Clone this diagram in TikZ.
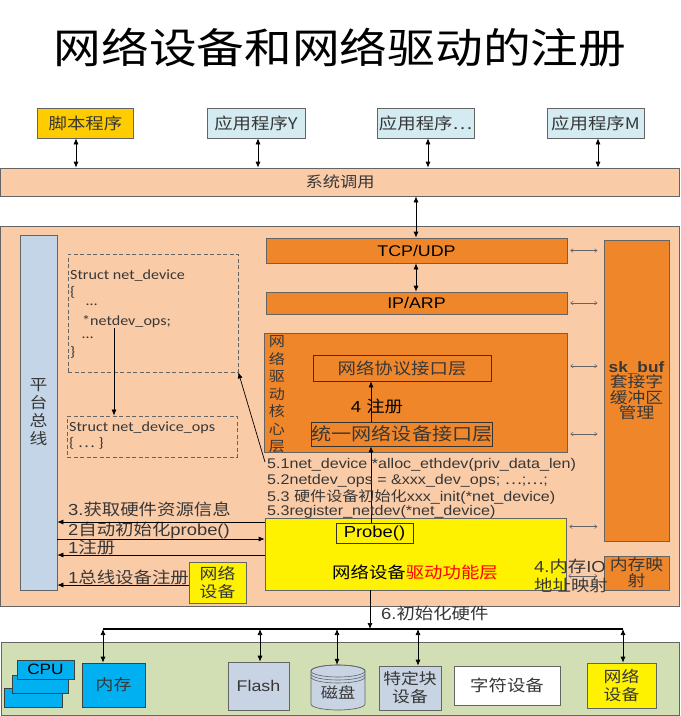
\documentclass[tikz,border=0pt]{standalone}
\usepackage{fontspec}
\setmainfont[FakeStretch=1.15]{Liberation Sans}
\newfontfamily\cjk[FakeStretch=1.15]{Noto Sans CJK SC}
\newfontfamily\carl[FakeStretch=1.15]{Carlito}
\usetikzlibrary{arrows.meta,calc}
\definecolor{peach}{RGB}{250,203,167}
\definecolor{orng}{RGB}{240,134,42}
\definecolor{busblue}{RGB}{197,213,232}
\definecolor{appcyan}{RGB}{211,235,241}
\definecolor{gold}{RGB}{255,204,0}
\definecolor{grn}{RGB}{210,222,180}
\definecolor{cpublue}{RGB}{0,176,240}
\definecolor{flashgray}{RGB}{200,212,228}
\definecolor{txt}{RGB}{55,55,55}
\definecolor{edge}{RGB}{100,100,100}
\newcommand\fsz[2]{\fontsize{#1}{#2}\selectfont}
\begin{document}
\begin{tikzpicture}[x=1pt,y=-1pt,
 box/.style={draw=edge,line width=0.7pt,inner sep=0pt,align=center,text=txt},
 arr/.style={-{Latex[length=6pt,width=5pt]},line width=0.7pt},
 darr/.style={{Latex[length=6pt,width=5pt]}-{Latex[length=6pt,width=5pt]},line width=0.7pt},
 sarr/.style={{To[length=3pt,width=4pt]}-{To[length=3pt,width=4pt]},draw=edge,line width=0.5pt},
 dbox/.style={draw=edge,line width=0.8pt,dash pattern=on 4pt off 2.5pt,inner sep=0pt},
 lbl/.style={anchor=west,inner sep=0pt,text=txt},
]
\useasboundingbox (0,0) rectangle (681,716);
\fill[white] (0,0) rectangle (681,716);

% title
\node (title) at (340,48) {\cjk\fsz{41.5}{46}网络设备和网络驱动的注册};

% application boxes
\node[box,fill=gold,minimum width=96pt,minimum height=30pt] (app1) at (85.5,123) {\cjk\fsz{16}{18}脚本程序};
\node[box,fill=appcyan,minimum width=98pt,minimum height=30pt] (app2) at (256,123) {\cjk\fsz{16}{18}应用程序Y};
\node[box,fill=appcyan,minimum width=97pt,minimum height=30pt] (app3) at (425.5,123) {\cjk\fsz{16}{18}应用程序…};
\node[box,fill=appcyan,minimum width=97pt,minimum height=30pt] (app4) at (595.5,123) {\cjk\fsz{16}{18}应用程序M};

% system call bar
\node[box,fill=peach,minimum width=679pt,minimum height=28pt] (sys) at (340,182) {\cjk\fsz{15}{17}系统调用};
\draw[darr] (app1.south -| 76,0) -- (sys.north -| 76,0);
\draw[darr] (app2.south -| 258,0) -- (sys.north -| 258,0);
\draw[darr] (app3.south -| 428,0) -- (sys.north -| 428,0);
\draw[darr] (app4.south -| 598,0) -- (sys.north -| 598,0);

% main kernel area
\node[box,fill=peach,minimum width=679pt,minimum height=380pt] (main) at (340,416) {};

% platform bus
\node[box,fill=busblue,minimum width=37pt,minimum height=355pt,font=\cjk\fsz{15.5}{18}] (bus) at (38.5,412.5) {平\\台\\总\\线};

% dashed struct boxes
\node[dbox,minimum width=170pt,minimum height=118pt] (nd) at (153,313) {};
\node[lbl] (s1) at (70,276) {\carl\fsz{14}{15}Struct net\_device};
\node[lbl] (s2) at (70,292) {\carl\fsz{14}{15}\{};
\node[lbl] (s3) at (86,305) {\carl\fsz{14}{15}…};
\node[lbl] (s4) at (82,322) {\carl\fsz{14}{15}*netdev\_ops;};
\node[lbl] (s5) at (82,338) {\carl\fsz{14}{15}…};
\node[lbl] (s6) at (70,352) {\carl\fsz{14}{15}\}};
\node[dbox,minimum width=170pt,minimum height=41pt] (nops) at (152,436.5) {};
\node[lbl] (o1) at (69,428) {\carl\fsz{14}{15}Struct net\_device\_ops};
\node[lbl] (o2) at (69,443) {\carl\fsz{14}{15}\{ {\cjk ⋯} \}};
\draw[arr] (s4.south -| 114,0) -- (nops.north -| 114,0);

% protocol stack
\node[box,fill=orng,minimum width=301pt,minimum height=25pt,text=black] (tcp) at (416.5,250.5) {\fsz{15.5}{17}TCP/UDP};
\node[box,fill=orng,minimum width=301pt,minimum height=22pt,text=black] (ip) at (416.5,303) {\fsz{15.5}{17}IP/ARP};
\draw[darr] (sys.south -| 416,0) -- (tcp.north -| 416,0);
\draw[darr] (tcp.south -| 416,0) -- (ip.north -| 416,0);

% driver core layer
\node[box,fill=orng,minimum width=303pt,minimum height=119pt] (core) at (415.5,392.5) {};
\node[text=txt,inner sep=0pt,align=center,font=\cjk\fsz{14}{17.5}] (corelbl) at (277,394.5) {网\\络\\驱\\动\\核\\心\\层};
\node[box,draw=black!80,minimum width=178pt,minimum height=26pt] (proto) at (402,368) {\cjk\fsz{16}{18}网络协议接口层};
\node[box,draw=black!80,minimum width=178pt,minimum height=24pt] (unify) at (402,434) {\cjk\fsz{17.5}{19}统一网络设备接口层};
\node[inner sep=0pt] (reg4) at (377,406) {\fsz{16}{18}4 {\cjk 注册}};
\draw[arr] (unify.north -| 371,0) -- (proto.south -| 371,0);

% driver function layer
\node[box,fill=yellow,minimum width=301pt,minimum height=72pt] (yel) at (415.5,554) {};
\node[inner sep=0pt] (yeltxt) at (415,572) {\cjk\fsz{16}{18}网络设备\textcolor{red}{驱动功能层}};
\node[box,fill=yellow,draw=black!80,minimum width=77pt,minimum height=20pt,text=black] (probe) at (374.5,533) {\fsz{16}{18}Probe()};
\draw[arr] (probe.north -| 371,0) -- (unify.south -| 371,0);

% 5.x steps
\node[lbl] (l51) at (267,465) {\fsz{14}{16}5.1net\_device *alloc\_ethdev(priv\_data\_len)};
\node[lbl] (l52) at (267,481) {\fsz{14}{16}5.2netdev\_ops = \&xxx\_dev\_ops; {\cjk ⋯};{\cjk ⋯};};
\node[lbl] (l53) at (267,497) {\fsz{14}{16}5.3 {\cjk 硬件设备初始化}xxx\_init(*net\_device)};
\node[lbl] (l54) at (267,512) {\fsz{14}{16}5.3register\_netdev(*net\_device)};
\draw[arr] ($(l51.west)+(-2,-3)$) -- (nd.south east);

% sk_buf and memory map
\node[box,fill=orng,minimum width=65pt,minimum height=301pt] (skbuf) at (636.5,390.5) {\bfseries\fsz{15}{18.5}sk\_buf\\\mdseries\cjk\fsz{15.5}{18.5}套接字\\\cjk\fsz{15.5}{18.5}缓冲区\\\cjk\fsz{15.5}{18.5}管理};
\node[box,fill=orng,minimum width=65pt,minimum height=34pt,font=\cjk\fsz{15.5}{16}] (memmap) at (636.5,573) {内存映\\射};
\draw[sarr] ($(tcp.east)+(3,0)$) -- ++(27,0);
\draw[sarr] ($(ip.east)+(3,0)$) -- ++(27,0);
\draw[sarr] ($(core.east |- proto.east)+(3,-2)$) -- ++(27,0);
\draw[sarr] ($(core.east |- unify.east)+(3,0)$) -- ++(27,0);
\draw[sarr] ($(yel.north east)+(3,9)$) -- ++(28,0);
\draw[sarr] ($(yel.east)+(2,22)$) -- ++(29,0);
\node[lbl] (io1) at (534,566) {\fsz{16}{18}4.{\cjk 内存}IO};
\node[lbl] (io2) at (534,585) {\cjk\fsz{16}{18}地址映射};

% left arrows to platform bus
\node[lbl] (a3) at (68,509) {\fsz{16}{18}3.{\cjk 获取硬件资源信息}};
\node[lbl] (a2) at (68,530) {\fsz{16}{18}2{\cjk 自动初始化}probe()};
\node[lbl] (a1) at (68,547) {\fsz{16}{18}1{\cjk 注册}};
\node[lbl] (a0) at (68,577) {\fsz{16}{18}1{\cjk 总线设备注册}};
\node[box,fill=yellow,minimum width=57pt,minimum height=41pt,font=\cjk\fsz{15.5}{18}] (ndev) at (217.5,582.5) {网络\\设备};
\draw[arr] (yel.west |- 0,522) -- (bus.east |- 0,522);
\draw[arr] (bus.east |- 0,539) -- (yel.west |- 0,539);
\draw[arr] (yel.west |- 0,555) -- (bus.east |- 0,555);
\draw[arr] (ndev.west |- 0,585) -- (bus.east |- 0,585);

% hardware bus
\coordinate (hl) at (103,629);
\coordinate (hr) at (623,629);
\node[lbl] (init6) at (381,613) {\fsz{16}{18}6.{\cjk 初始化硬件}};
\draw[arr] (yel.south -| 370,0) -- (hl -| 370,0);
\draw[line width=1.6pt] (hl) -- (hr);

% hardware area
\node[box,fill=grn,minimum width=678pt,minimum height=73pt] (hw) at (340,678.5) {};
\node[box,fill=cpublue,draw=black!75,minimum width=58pt,minimum height=19pt] (cpu3) at (33,697.5) {};
\node[box,fill=cpublue,draw=black!75,minimum width=56pt,minimum height=18pt] (cpu2) at (40,684) {};
\node[box,fill=cpublue,draw=black!75,minimum width=57pt,minimum height=19pt,text=black] (cpu1) at (45.5,669.5) {\fsz{15}{17}CPU};
\node[box,fill=cpublue,draw=black!75,minimum width=63pt,minimum height=44pt] (mem) at (113.5,685) {\cjk\fsz{15.5}{17}内存};
\node[box,fill=flashgray,minimum width=61pt,minimum height=48pt] (flash) at (258.5,686) {\fsz{15.5}{17}Flash};
\node[inner sep=0pt,minimum width=54pt,minimum height=45pt] (disk) at (338,687.5) {};
\fill[flashgray,draw=edge,line width=0.7pt] (311,671) -- (311,704) arc[start angle=180,end angle=360,x radius=27pt,y radius=6pt] -- (365,671) arc[start angle=0,end angle=180,x radius=27pt,y radius=6pt] -- cycle;
\draw[edge,line width=0.6pt] (338,671) ellipse[x radius=27pt,y radius=6pt];
\draw[edge,line width=0.6pt] (311,674) arc[start angle=180,end angle=360,x radius=27pt,y radius=6pt];
\draw[edge,line width=0.6pt] (311,677) arc[start angle=180,end angle=360,x radius=27pt,y radius=6pt];
\node[text=txt] (disktxt) at (338,693) {\cjk\fsz{15}{17}磁盘};
\node[box,fill=flashgray,minimum width=62pt,minimum height=44pt,font=\cjk\fsz{15.5}{18}] (blk) at (410,688) {特定块\\设备};
\node[box,fill=white,minimum width=106pt,minimum height=39pt] (chr) at (507,685.5) {\cjk\fsz{16}{18}字符设备};
\node[box,fill=yellow,minimum width=69pt,minimum height=45pt,font=\cjk\fsz{15.5}{18}] (net) at (621.5,685.5) {网络\\设备};
\draw[darr] (hl) -- (mem.north -| hl);
\draw[darr] (hl -| 260,0) -- (flash.north -| 260,0);
\draw[darr] (hl -| 337,0) -- (disk.north -| 337,0);
\draw[darr] (hl -| 418,0) -- (blk.north -| 418,0);
\draw[darr] (hr) -- (net.north -| hr);
\end{tikzpicture}
\end{document}
